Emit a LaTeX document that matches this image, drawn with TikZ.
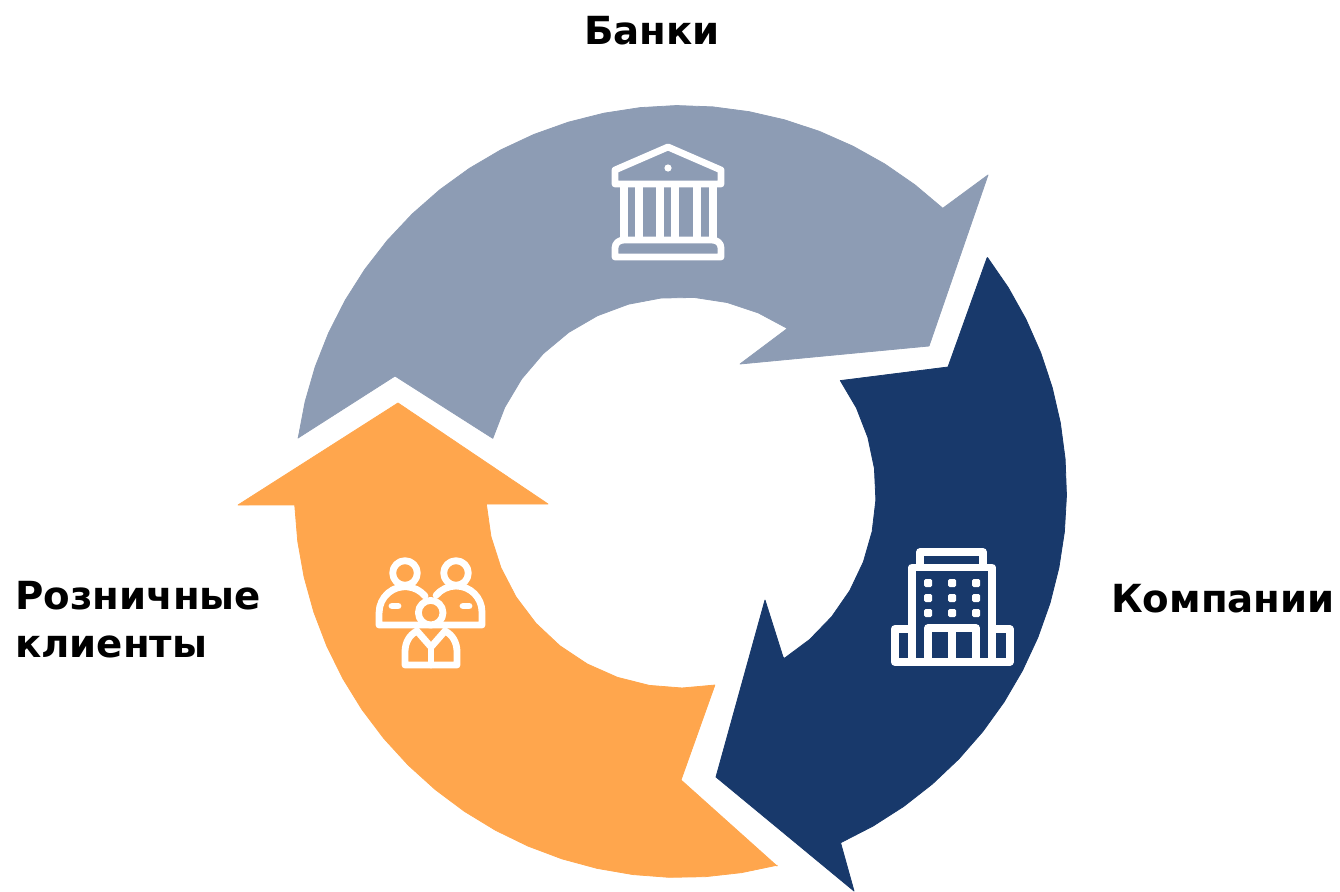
\documentclass[tikz,border=0pt]{standalone}
\usepackage{fontspec}
\setmainfont{DejaVu Sans}
\definecolor{bankgrey}{HTML}{8D9CB4}
\definecolor{navy}{HTML}{18396B}
\definecolor{orangeseg}{HTML}{FFA64D}
\tikzset{
  seg/.style={line width=0.8pt,line join=round},
  icon/.style={draw=white,line width=6.8pt,line join=round,line cap=round},
  iconwide/.style={icon,line width=7.6pt},
  lbl/.style={font=\bfseries\fontsize{38.7}{46}\selectfont,inner sep=0pt,anchor=base west,text=black},
}
\begin{document}
\begin{tikzpicture}[x=1pt,y=-1pt]
\useasboundingbox (0,0) rectangle (1340,891);
% segments
\filldraw[seg,draw=bankgrey,fill=bankgrey] (298,438)
  -- plot[domain=188:312.8,samples=24] ({680.5+386*cos(\x)},{491.5+386*sin(\x)})
  --(988,175)--(929,346)--(740,364)--(788,328)
  -- plot[domain=303:196.2,samples=12] ({681+196*cos(\x)},{493+196*sin(\x)})
  --(395,376)--cycle;
\filldraw[seg,draw=navy,fill=navy] (987,258)
  -- plot[domain=-37.3:65.5,samples=20] ({680.5+386*cos(\x)},{491.5+386*sin(\x)})
  --(854,891)--(716,777)--(765,600)--(783,657)
  -- plot[domain=58:-35.2,samples=11] ({681+195*cos(\x)},{493+195*sin(\x)})
  --(948,367)--cycle;
\filldraw[seg,draw=orangeseg,fill=orangeseg] (238,505)--(398,403)--(548,504)--(486,504)
  -- plot[domain=176.8:80,samples=11] ({681+195*cos(\x)},{493+195*sin(\x)})
  --(681,780)--(777,866)
  -- plot[domain=75.5:178,samples=20] ({680.5+386*cos(\x)},{491.5+386*sin(\x)})
  --cycle;
% bank icon
\draw[icon] (615,184)--(615,170)--(668,147)--(721,170)--(721,184)--cycle;
\fill[white] (668,168) circle (3.6);
\foreach \cx in {624,639,660,675,697,713} \draw[iconwide,line cap=butt] (\cx,184)--(\cx,240);
\draw[icon] (615,257)--(615,248) .. controls (615,243) and (619,240) .. (624,240)--(712,240) .. controls (717,240) and (721,243) .. (721,248)--(721,257)--cycle;
% people icon
\draw[icon] (405,573) circle (12.3);
\draw[icon] (456,573) circle (12.3);
\draw[icon] (425,596) arc[start angle=-40,end angle=-180,radius=26] -- (379,625)--(482,625)--(482,612) arc[start angle=0,end angle=-140,radius=26];
\draw[icon,line cap=round] (392,606)--(398,606);
\draw[icon,line cap=round] (463,606)--(469,606);
\filldraw[icon,fill=orangeseg] (430.7,612.7) circle (12.3);
\draw[icon] (417,631) .. controls (409,635) and (405,643) .. (405,652)--(405,665)--(457,665)--(457,652) .. controls (457,643) and (453,635) .. (445,631);
\draw[icon] (417,631)--(431,647)--(445,631);
\draw[icon] (431,647)--(431,665);
% building icon
\draw[iconwide] (920,565)--(920,552)--(983,552)--(983,565);
\draw[iconwide] (912,662)--(912,567.5)--(992,567.5)--(992,662);
\draw[iconwide] (912,629)--(894.7,629)--(894.7,662)--(1009.7,662)--(1009.7,629)--(992,629);
\draw[iconwide] (928,662)--(928,628)--(976,628)--(976,662);
\draw[iconwide] (952,628)--(952,662);
\foreach \wx in {928,952,976} \foreach \wy in {583,598,613}
  \fill[white,rounded corners=1.5pt] (\wx-4,\wy-4) rectangle (\wx+4,\wy+4);
% labels
\node[lbl,anchor=base] (banks) at (652,45) {Банки};
\node[lbl] (retail1) at (15,609) {Розничные};
\node[lbl] (retail2) at (15,657) {клиенты};
\node[lbl] (companies) at (1111,612) {Компании};
\end{tikzpicture}
\end{document}
